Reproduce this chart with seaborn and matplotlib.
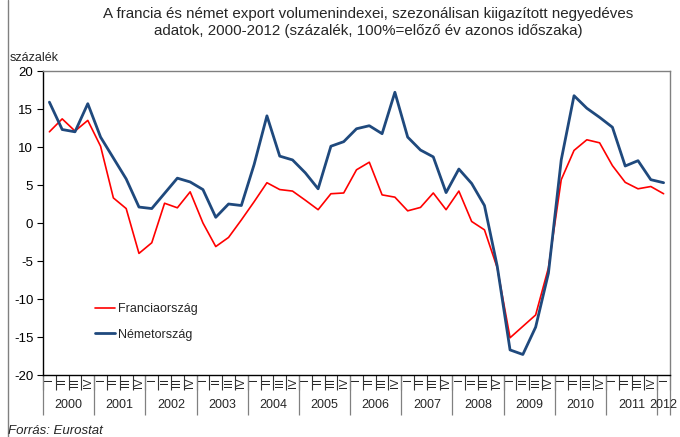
import numpy as np
import pandas as pd
import matplotlib.pyplot as plt
import matplotlib.transforms as mtransforms
import seaborn as sns

# quarterly data, 2000 Q1 - 2012 Q1
years = [str(y) for y in range(2000, 2013)]
quarters = ['I', 'II', 'III', 'IV']
quarter_labels = quarters * 12 + ['I']

france = [12.0, 13.7, 12.1, 13.5, 10.1, 3.3, 1.9, -4.0,
          -2.6, 2.6, 2.0, 4.1, 0.0, -3.1, -1.9, 0.4,
          2.8, 5.3, 4.4, 4.2, 3.0, 1.75, 3.85, 3.95,
          7.0, 8.0, 3.7, 3.4, 1.6, 2.05, 3.95, 1.75,
          4.2, 0.2, -0.9, -5.9, -15.1, -13.6, -12.1, -5.9,
          5.7, 9.55, 10.95, 10.55, 7.55, 5.35, 4.5, 4.8,
          3.85]
germany = [15.9, 12.3, 12.0, 15.7, 11.3, 8.55, 5.8, 2.1,
           1.9, 3.9, 5.9, 5.4, 4.4, 0.75, 2.5, 2.3,
           7.7, 14.1, 8.8, 8.3, 6.6, 4.5, 10.1, 10.7,
           12.4, 12.8, 11.75, 17.2, 11.3, 9.6, 8.7, 4.0,
           7.1, 5.2, 2.3, -5.7, -16.7, -17.3, -13.7, -6.6,
           8.3, 16.75, 15.1, 13.9, 12.6, 7.5, 8.2, 5.7,
           5.3]

df = pd.DataFrame({'idx': np.arange(len(france)), 'fr': france, 'de': germany})

sns.set_theme(style='white')
plt.rcParams['font.family'] = ['Liberation Sans', 'DejaVu Sans']
plt.rcParams['axes.unicode_minus'] = False

fig = plt.figure(figsize=(6.8, 4.37), dpi=100)
ax = fig.add_axes([43 / 680, 1 - 375 / 437, 627 / 680, 304 / 437])

sns.lineplot(data=df, x='idx', y='fr', ax=ax, color='#FF0000', linewidth=1.2,
             label='Franciaország')
sns.lineplot(data=df, x='idx', y='de', ax=ax, color='#1F497D', linewidth=2.0,
             label='Németország')

n = len(df)
ax.set_xlim(-0.5, n - 0.5)
ax.set_ylim(-20, 20)
ax.set_yticks(np.arange(-20, 21, 5))
ax.tick_params(axis='y', left=True, length=4, width=0.8, color='black',
               labelsize=9.5, pad=3, labelcolor='black')
ax.set_xlabel('')
ax.set_ylabel('')

# quarter labels (rotated like in Excel)
ax.set_xticks(np.arange(n))
ax.set_xticklabels(quarter_labels, rotation=90, fontsize=8)
ax.tick_params(axis='x', which='major', length=0, pad=2)
ax.set_xticks(np.arange(-0.5, n, 1), minor=True)
ax.tick_params(axis='x', which='minor', bottom=True, length=11, width=0.8,
               color='#333333')

for side in ['top', 'right']:
    ax.spines[side].set_color('#808080')
    ax.spines[side].set_linewidth(1.0)
for side in ['left', 'bottom']:
    ax.spines[side].set_color('black')
    ax.spines[side].set_linewidth(1.0)

# year groups
trans = mtransforms.blended_transform_factory(ax.transData, ax.transAxes)
bounds = list(np.arange(-0.5, n, 4)) + [n - 0.5]
ax.vlines(bounds, -0.132, 0, transform=trans, colors='#808080',
          linewidth=0.9, clip_on=False)
for k, yr in enumerate(years):
    start = 4 * k
    end = min(4 * k + 3, n - 1)
    ax.text((start + end) / 2, -0.098, yr, transform=trans, ha='center',
            va='center', fontsize=9)

leg = ax.legend(loc='center left', bbox_to_anchor=(0.065, 0.175), frameon=False,
                fontsize=9, handlelength=1.6, handletextpad=0.2, labelspacing=1.1)

fig.text(0.541, 0.983,
         'A francia és német export volumenindexei, szezonálisan kiigazított negyedéves\n'
         'adatok, 2000-2012 (százalék, 100%=előző év azonos időszaka)',
         ha='center', va='top', fontsize=10.9, linespacing=1.2)
fig.text(10 / 680, 1 - 58 / 437, 'százalék', ha='left', va='center', fontsize=9)
fig.text(8 / 680, 1 - 431 / 437, 'Forrás: Eurostat', ha='left', va='center',
         fontsize=9.5, style='italic')
fig.add_artist(plt.Line2D([8 / 680, 8 / 680], [0, 1], color='#808080',
                          linewidth=1.0, transform=fig.transFigure))

fig.savefig('out.png', dpi=100)
